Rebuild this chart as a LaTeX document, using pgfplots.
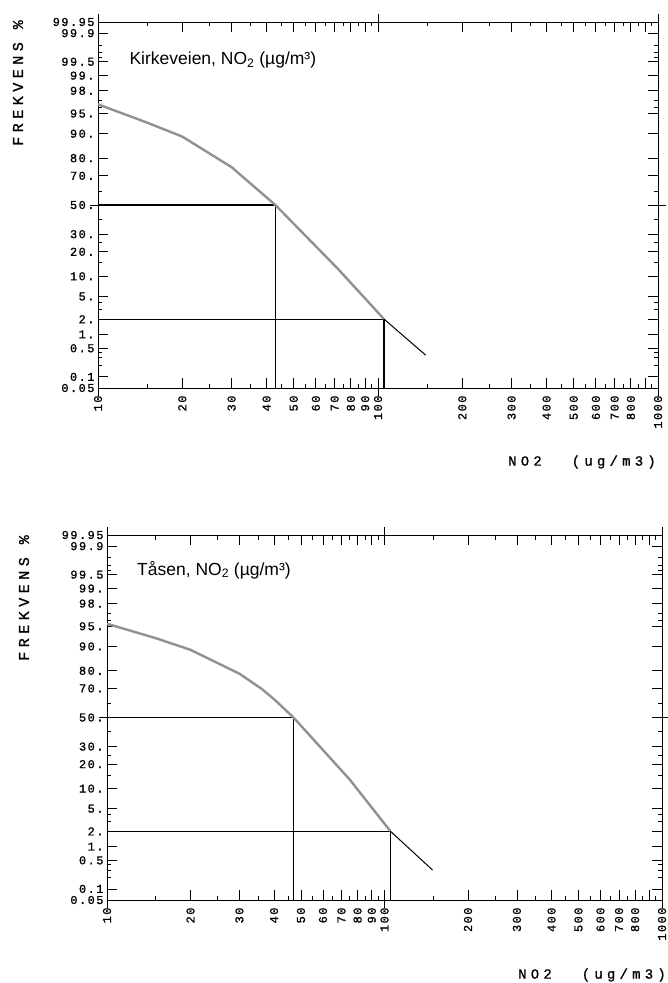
\documentclass[border=0pt]{standalone}
\usepackage{fontspec}
\setmainfont{Liberation Sans}
\newfontfamily\plotfont{Liberation Mono}[LetterSpace=12, FakeBold=1]
\newfontfamily\labelfont{Liberation Mono}[LetterSpace=30, FakeBold=1]
\usepackage{pgfplots}
\pgfplotsset{compat=1.18}
\definecolor{curve}{RGB}{145,145,145}

% y values are probits (normal quantiles) of the frequency in %
\pgfplotsset{
  probaxis/.style={
    scale only axis,
    xmin=10, xmax=1000,
    ymin=-3.2905, ymax=3.2905,
    axis line style={line width=0.9pt},
    tick style={black, line width=0.8pt},
    tick align=inside,
    major tick length=10pt, minor tick length=4.5pt,
    xtick={10,20,30,40,50,60,70,80,90,100,200,300,400,500,600,700,800,900,1000},
    xticklabels={10,20,30,40,50,60,70,80,90,100,200,300,400,500,600,700,800,{},1000},
    minor xtick={15,25,35,45,55,65,75,85,95,150,250,350,450,550,650,750,850,950},
    ytick={-3.2905,-3.0902,-2.5758,-2.3263,-2.0537,-1.6449,-1.2816,-0.8416,-0.5244,0,
           0.5244,0.8416,1.2816,1.6449,2.0537,2.3263,2.5758,3.0902,3.2905},
    yticklabels={0.05,0.1,0.5,1.,2.,5.,10.,20.,30.,50.,70.,80.,90.,95.,98.,99.,99.5,99.9,99.95},
    minor ytick={-2.8782,-2.7478,-2.6521,-1.8808,-1.7507,-1.0364,-0.6745,-0.2533,
                 0.2533,1.7507,1.8808,2.6521,2.7478,2.8782},
    extra x ticks={10,100,1000}, extra x tick labels={},
    extra x tick style={tick align=center, major tick length=16pt},
    extra y ticks={0}, extra y tick labels={},
    extra y tick style={tick align=center, major tick length=16pt},
    tick label style={font=\plotfont\fontsize{12}{12}\selectfont},
    xticklabel style={rotate=90, anchor=east},
    xticklabel shift=4pt,
    yticklabel shift=0pt,
  },
}

\begin{document}
\begin{tikzpicture}
\path[use as bounding box] (0,0) rectangle (668pt,-983pt);

% Kirkeveien
\begin{axis}[xmode=log, probaxis, name=p1, at={(98pt,-388pt)}, anchor=south west,
             width=560pt, height=366pt]
\addplot[black, line width=1.3pt] coordinates {(10,0) (43,0) (43,-3.2905)};
\addplot[black, line width=1.3pt] coordinates {(10,-2.0537) (105,-2.0537) (105,-3.2905)};
\addplot[curve, line width=2.4pt] coordinates {
  (10,1.81) (15,1.48) (20,1.23) (30,0.68) (43,0) (72,-1.15) (105,-2.05)};
\addplot[black, line width=1pt] coordinates {(105,-2.05) (148,-2.70)};
\node[anchor=west, font=\fontsize{17.5}{17.5}\selectfont] at (rel axis cs:0.05,0.896)
  {Kirkeveien, NO\textsubscript{2} (µg/m³)};
\end{axis}
\node[rotate=90, anchor=east, inner sep=0pt, font=\labelfont\fontsize{15}{15}\selectfont]
  at ([xshift=-80pt, yshift=2pt]p1.north west) {FREKVENS\hspace{13pt}\%};
\node[anchor=east, inner sep=0pt, font=\labelfont\fontsize{14}{14}\selectfont]
  at ([xshift=-2pt, yshift=-74pt]p1.south east) {NO2\hspace{30pt}(ug/m3)};

% Tåsen
\begin{axis}[xmode=log, probaxis, name=p2, at={(107pt,-900pt)}, anchor=south west,
             width=555pt, height=365pt]
\addplot[black, line width=1.3pt] coordinates {(10,0) (47,0) (47,-3.2905)};
\addplot[black, line width=1.3pt] coordinates {(10,-2.0537) (105,-2.0537) (105,-3.2905)};
\addplot[curve, line width=2.4pt] coordinates {
  (10,1.69) (15,1.43) (20,1.22) (30,0.79) (36,0.52) (40,0.33) (47,0) (75,-1.12) (105,-2.05)};
\addplot[black, line width=1pt] coordinates {(105,-2.05) (149,-2.75)};
\node[anchor=west, font=\fontsize{17.5}{17.5}\selectfont] at (rel axis cs:0.048,0.904)
  {Tåsen, NO\textsubscript{2} (µg/m³)};
\end{axis}
\node[rotate=90, anchor=east, inner sep=0pt, font=\labelfont\fontsize{15}{15}\selectfont]
  at ([xshift=-83pt, yshift=0pt]p2.north west) {FREKVENS\hspace{13pt}\%};
\node[anchor=east, inner sep=0pt, font=\labelfont\fontsize{14}{14}\selectfont]
  at ([xshift=4pt, yshift=-75pt]p2.south east) {NO2\hspace{30pt}(ug/m3)};
\end{tikzpicture}
\end{document}
